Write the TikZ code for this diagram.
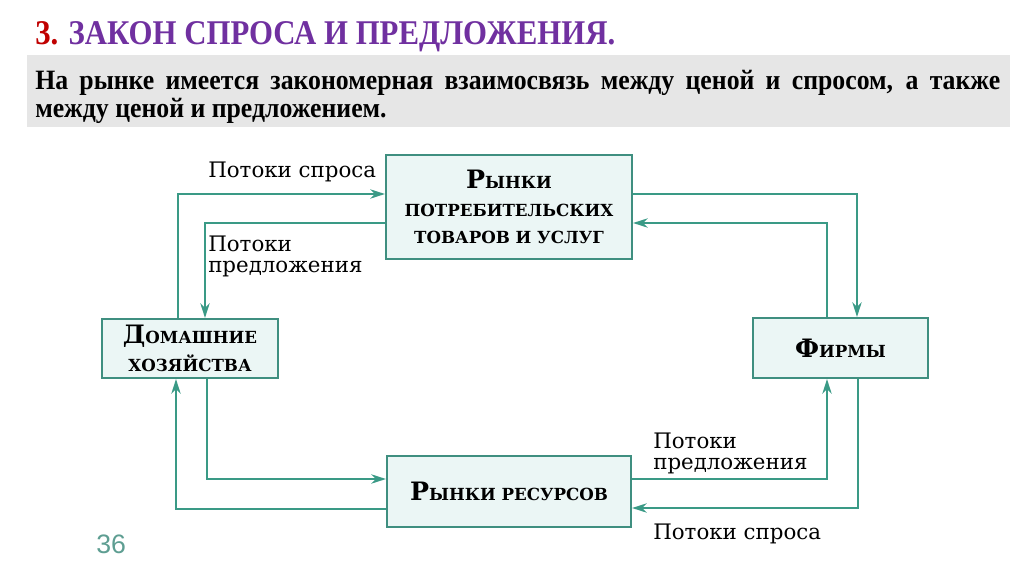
\documentclass[tikz,border=0pt]{standalone}
\usepackage{fontspec}
\setmainfont{DejaVu Serif}
\newfontfamily\headfont[FakeStretch=0.92]{Liberation Serif}
\newfontfamily\numfont{Liberation Sans}
\usetikzlibrary{arrows.meta,calc}
\definecolor{flowc}{HTML}{3A9A86}
\definecolor{boxc}{HTML}{3F8F80}
\definecolor{boxfill}{HTML}{EBF6F5}
\definecolor{titlered}{HTML}{C00000}
\definecolor{titlepurple}{HTML}{7030A0}
\definecolor{graybg}{HTML}{E6E6E6}
\definecolor{numc}{HTML}{5E9E92}
\newlength\pu \setlength\pu{0.75pt}
\newcommand\initl[1]{{\fontsize{19}{20}\selectfont #1}}
\begin{document}
\begin{tikzpicture}[x=0.75pt,y=-0.75pt,
 box/.style={draw=boxc,line width=1.6pt,fill=boxfill,inner sep=0pt,align=center,
   font=\bfseries\fontsize{12.5}{20.5}\selectfont},
 flow/.style={draw=flowc,line width=1.6pt,-{Stealth[length=11pt,width=7pt]}},
 lbl/.style={inner sep=0pt,font=\fontsize{16}{15.5}\selectfont,align=left}]
\useasboundingbox (0,0) rectangle (1024,574);
\fill[white] (0,0) rectangle (1024,574);
% header
\node[inner sep=0pt,anchor=base west] (title) at (35,45)
  {\resizebox{580\pu}{\height}{\headfont\bfseries\fontsize{26}{26}\selectfont
   \textcolor{titlered}{3.} \textcolor{titlepurple}{ЗАКОН СПРОСА И ПРЕДЛОЖЕНИЯ.}}};
\fill[graybg] (27,55) rectangle (1010,127);
\node[inner sep=0pt,anchor=base west] (line1) at (35,90)
  {\headfont\bfseries\fontsize{21}{22}\selectfont
   \makebox[965\pu][s]{На рынке имеется закономерная взаимосвязь между ценой и спросом, а также}};
\node[inner sep=0pt,anchor=base west] (line2) at (35,118)
  {\headfont\bfseries\fontsize{21}{22}\selectfont между ценой и предложением.};
% boxes
\node[box,minimum width=246\pu,minimum height=104\pu] (top) at (509,207)
  {\initl{Р}ЫНКИ\\ПОТРЕБИТЕЛЬСКИХ\\ТОВАРОВ И УСЛУГ};
\node[box,minimum width=176\pu,minimum height=59\pu] (hh) at (190,348.5)
  {\initl{Д}ОМАШНИЕ\\ХОЗЯЙСТВА};
\node[box,minimum width=175\pu,minimum height=60\pu] (firm) at (840.5,348)
  {\initl{Ф}ИРМЫ};
\node[box,minimum width=244\pu,minimum height=71\pu] (res) at (509,491.5)
  {\initl{Р}ЫНКИ РЕСУРСОВ};
% flows
\draw[flow] ($(hh.north)+(-12,0)$) |- ($(top.west)+(0,-13)$);
\draw[flow] ($(top.west)+(0,16)$) -| ($(hh.north)+(15,0)$);
\draw[flow] ($(top.east)+(0,-13)$) -| ($(firm.north)+(16.5,0)$);
\draw[flow] ($(firm.north)+(-13.5,0)$) |- ($(top.east)+(0,16)$);
\draw[flow] ($(firm.south)+(17.5,0)$) |- ($(res.east)+(0,16.5)$);
\draw[flow] ($(res.east)+(0,-12.5)$) -| ($(firm.south)+(-13.5,0)$);
\draw[flow] ($(hh.south)+(17,0)$) |- ($(res.west)+(0,-12.5)$);
\draw[flow] ($(res.west)+(0,17.5)$) -| ($(hh.south)+(-14,0)$);
% labels
\node[lbl,anchor=base west] (ldem1) at (208,178) {Потоки спроса};
\node[lbl,anchor=base west] (lsup1) at (208,272) {Потоки\\предложения};
\node[lbl,anchor=base west] (lsup2) at (653,469) {Потоки\\предложения};
\node[lbl,anchor=base west] (ldem2) at (653,539) {Потоки спроса};
\node[inner sep=0pt,anchor=base west,text=numc,font=\numfont\fontsize{20}{20}\selectfont] (pg) at (96,553) {36};
\end{tikzpicture}
\end{document}
